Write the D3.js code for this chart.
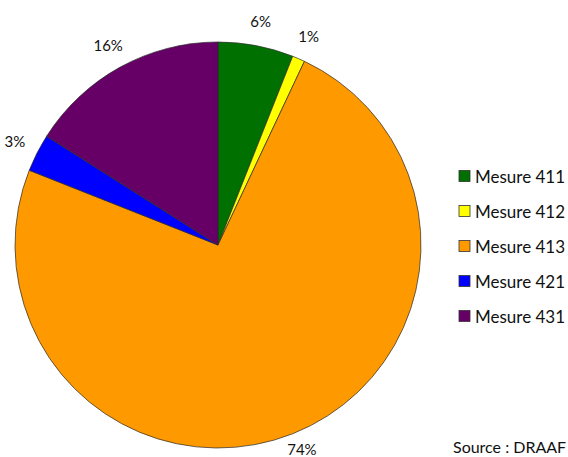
<!DOCTYPE html>
<html>
<head>
<meta charset="utf-8">
<script src="https://cdn.jsdelivr.net/npm/d3@7"></script>
<style>
  html, body { margin: 0; padding: 0; background: #fff; }
  svg { display: block; }
  text { font-family: Lato, "Open Sans", sans-serif; fill: #111; }
</style>
</head>
<body>
<svg id="chart" width="568" height="457"></svg>
<script>
// Share of funding by measure (percent)
const categories = ["Mesure 411", "Mesure 412", "Mesure 413", "Mesure 421", "Mesure 431"];
const values = [6, 1, 74, 3, 16];
const colors = ["#007000", "#ffff00", "#ff9900", "#0000ff", "#660066"];
const sourceText = "Source : DRAAF";

const width = 568, height = 457;
const svg = d3.select("#chart");
const cx = 218, cy = 245, radius = 203, labelRadius = 228;

const pie = d3.pie().sort(null).value(d => d)(values);
const arc = d3.arc().innerRadius(0).outerRadius(radius);
const color = d3.scaleOrdinal().domain(categories).range(colors);

const g = svg.append("g").attr("transform", `translate(${cx},${cy})`);

g.selectAll("path.slice")
  .data(pie)
  .join("path")
  .attr("class", "slice")
  .attr("d", arc)
  .attr("fill", (d, i) => color(categories[i]))
  .attr("stroke", "#2a2a2a")
  .attr("stroke-width", 0.7);

// Percent labels just outside the rim, kept inside the drawing area
const labelArc = d3.arc().innerRadius(labelRadius).outerRadius(labelRadius);
const labelFont = 15;
g.selectAll("text.pct")
  .data(pie)
  .join("text")
  .attr("class", "pct")
  .attr("transform", d => {
    const [x, y] = labelArc.centroid(d);
    const yc = Math.min(y, height - cy - labelFont / 2 - 1);
    return `translate(${x},${yc})`;
  })
  .attr("text-anchor", "middle")
  .attr("dominant-baseline", "central")
  .style("font-size", labelFont + "px")
  .text(d => d.value + "%");

// Legend
const legend = svg.append("g").attr("transform", "translate(459,176)");
const row = legend.selectAll("g.row")
  .data(categories)
  .join("g")
  .attr("class", "row")
  .attr("transform", (d, i) => `translate(0,${i * 35})`);
row.append("rect")
  .attr("x", 0).attr("y", -5.5)
  .attr("width", 11).attr("height", 11)
  .attr("fill", d => color(d))
  .attr("stroke", "#333").attr("stroke-width", 0.8);
row.append("text")
  .attr("x", 16).attr("y", 0)
  .attr("dominant-baseline", "central")
  .style("font-size", "17px")
  .text(d => d);

svg.append("text")
  .attr("x", 453).attr("y", 446)
  .attr("dominant-baseline", "central")
  .style("font-size", "16px")
  .text(sourceText);
</script>
</body>
</html>
